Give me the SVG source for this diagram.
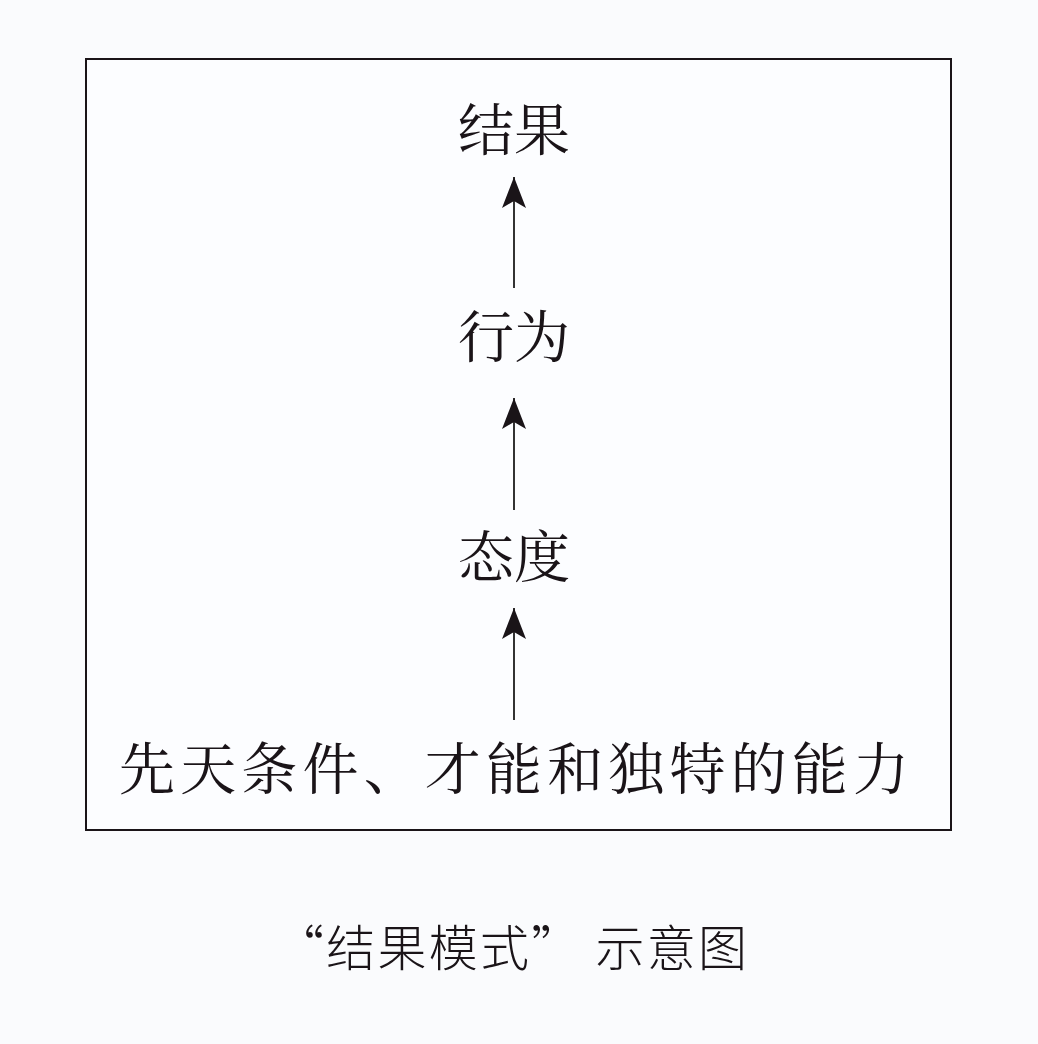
<svg xmlns="http://www.w3.org/2000/svg" width="1038" height="1044" viewBox="0 0 1038 1044">
<style>
.t{font-family:"Noto Serif CJK SC","Noto Sans CJK SC",serif;font-size:56px;fill:#1a1418;text-anchor:middle;dominant-baseline:central}
.cap{font-family:"Noto Sans CJK SC",sans-serif;font-size:49px;font-weight:300;fill:#1a1418;text-anchor:middle;dominant-baseline:central}
.c{stroke:#333;stroke-width:2;fill:none;marker-end:url(#ah)}
</style>
<defs>
<marker id="ah" markerUnits="userSpaceOnUse" viewBox="-32 -13 34 26" refX="0" refY="0" markerWidth="34" markerHeight="26" orient="auto">
<path d="M0,0 L-31,-12 L-24,0 L-31,12 Z" fill="#1a1418"/>
</marker>
</defs>
<rect width="1038" height="1044" fill="#fafbfd"/>
<rect id="frame" x="86" y="59" width="865" height="771" fill="#fcfdff" stroke="#1a1418" stroke-width="2"/>
<g id="connectors">
<path class="c" d="M514,288 V177"/>
<path class="c" d="M514,510 V398"/>
<path class="c" d="M514,720 V608"/>
</g>
<g id="n-result"><text class="t" x="514" y="126">结果</text></g>
<g id="n-behavior"><text class="t" x="514" y="333">行为</text></g>
<g id="n-attitude"><text class="t" x="514" y="553">态度</text></g>
<g id="n-innate"><text class="t" x="514" y="765" textLength="790" lengthAdjust="spacing">先天条件、才能和独特的能力</text></g>
<g id="caption"><text class="cap" x="511" y="944" textLength="472" lengthAdjust="spacing">“结果模式” 示意图</text></g>
</svg>
